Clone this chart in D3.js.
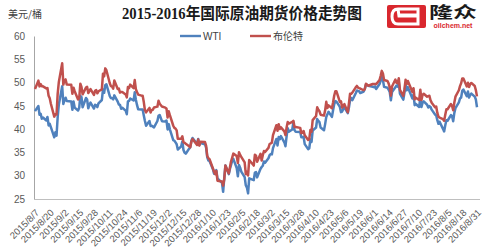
<!DOCTYPE html>
<html>
<head>
<meta charset="utf-8">
<script src="https://cdn.jsdelivr.net/npm/d3@7"></script>
<style>
body { margin: 0; background: #fff; }
svg { display: block; font-family: "Liberation Sans", Arial, "Noto Sans CJK SC", sans-serif; }
</style>
</head>
<body>
<svg></svg>
<script>
// trading days (both contracts quoted)
var dates = [
  "2015/8/7","2015/8/10","2015/8/11","2015/8/12","2015/8/13","2015/8/14","2015/8/17","2015/8/18","2015/8/19","2015/8/20","2015/8/21","2015/8/24","2015/8/25","2015/8/26","2015/8/27","2015/8/28","2015/8/31",
  "2015/9/1","2015/9/2","2015/9/3","2015/9/4","2015/9/8","2015/9/9","2015/9/10","2015/9/11","2015/9/14","2015/9/15","2015/9/16","2015/9/17","2015/9/18","2015/9/21","2015/9/22","2015/9/23","2015/9/24","2015/9/25","2015/9/28","2015/9/29","2015/9/30",
  "2015/10/1","2015/10/2","2015/10/5","2015/10/6","2015/10/7","2015/10/8","2015/10/9","2015/10/12","2015/10/13","2015/10/14","2015/10/15","2015/10/16","2015/10/19","2015/10/20","2015/10/21","2015/10/22","2015/10/23","2015/10/26","2015/10/27","2015/10/28","2015/10/29","2015/10/30",
  "2015/11/2","2015/11/3","2015/11/4","2015/11/5","2015/11/6","2015/11/9","2015/11/10","2015/11/11","2015/11/12","2015/11/13","2015/11/16","2015/11/17","2015/11/18","2015/11/19","2015/11/20","2015/11/23","2015/11/24","2015/11/25","2015/11/27","2015/11/30",
  "2015/12/1","2015/12/2","2015/12/3","2015/12/4","2015/12/7","2015/12/8","2015/12/9","2015/12/10","2015/12/11","2015/12/14","2015/12/15","2015/12/16","2015/12/17","2015/12/18","2015/12/21","2015/12/22","2015/12/23","2015/12/24","2015/12/28","2015/12/29","2015/12/30","2015/12/31",
  "2016/1/4","2016/1/5","2016/1/6","2016/1/7","2016/1/8","2016/1/11","2016/1/12","2016/1/13","2016/1/14","2016/1/15","2016/1/19","2016/1/20","2016/1/21","2016/1/22","2016/1/25","2016/1/26","2016/1/27","2016/1/28","2016/1/29",
  "2016/2/1","2016/2/2","2016/2/3","2016/2/4","2016/2/5","2016/2/8","2016/2/9","2016/2/10","2016/2/11","2016/2/12","2016/2/16","2016/2/17","2016/2/18","2016/2/19","2016/2/22","2016/2/23","2016/2/24","2016/2/25","2016/2/26","2016/2/29",
  "2016/3/1","2016/3/2","2016/3/3","2016/3/4","2016/3/7","2016/3/8","2016/3/9","2016/3/10","2016/3/11","2016/3/14","2016/3/15","2016/3/16","2016/3/17","2016/3/18","2016/3/21","2016/3/22","2016/3/23","2016/3/24","2016/3/28","2016/3/29","2016/3/30","2016/3/31",
  "2016/4/1","2016/4/4","2016/4/5","2016/4/6","2016/4/7","2016/4/8","2016/4/11","2016/4/12","2016/4/13","2016/4/14","2016/4/15","2016/4/18","2016/4/19","2016/4/20","2016/4/21","2016/4/22","2016/4/25","2016/4/26","2016/4/27","2016/4/28","2016/4/29",
  "2016/5/2","2016/5/3","2016/5/4","2016/5/5","2016/5/6","2016/5/9","2016/5/10","2016/5/11","2016/5/12","2016/5/13","2016/5/16","2016/5/17","2016/5/18","2016/5/19","2016/5/20","2016/5/23","2016/5/24","2016/5/25","2016/5/26","2016/5/27","2016/5/31",
  "2016/6/1","2016/6/2","2016/6/3","2016/6/6","2016/6/7","2016/6/8","2016/6/9","2016/6/10","2016/6/13","2016/6/14","2016/6/15","2016/6/16","2016/6/17","2016/6/20","2016/6/21","2016/6/22","2016/6/23","2016/6/24","2016/6/27","2016/6/28","2016/6/29","2016/6/30",
  "2016/7/1","2016/7/5","2016/7/6","2016/7/7","2016/7/8","2016/7/11","2016/7/12","2016/7/13","2016/7/14","2016/7/15","2016/7/18","2016/7/19","2016/7/20","2016/7/21","2016/7/22","2016/7/25","2016/7/26","2016/7/27","2016/7/28","2016/7/29",
  "2016/8/1","2016/8/2","2016/8/3","2016/8/4","2016/8/5","2016/8/8","2016/8/9","2016/8/10","2016/8/11","2016/8/12","2016/8/15","2016/8/16","2016/8/17","2016/8/18","2016/8/19","2016/8/22","2016/8/23","2016/8/24","2016/8/25","2016/8/26","2016/8/29","2016/8/30","2016/8/31"
];

var wti = [
  43.87,44.96,43.08,43.30,42.23,42.50,41.87,42.62,40.80,41.14,40.45,38.24,39.31,38.60,42.56,45.22,49.20,
  45.41,46.25,46.75,46.05,45.94,44.15,45.92,44.63,44.00,44.59,47.15,46.90,44.68,46.68,46.35,44.48,45.22,45.70,44.43,45.23,45.09,
  44.74,45.54,46.26,48.53,47.81,49.43,49.63,47.10,46.66,46.64,46.38,47.26,45.89,45.29,45.20,44.38,44.60,43.98,43.20,45.94,46.06,46.59,
  46.14,47.90,46.32,45.20,44.29,44.21,44.21,42.93,41.75,40.74,41.74,40.67,40.75,40.54,40.39,41.75,42.87,43.04,41.71,41.65,
  41.85,39.94,41.08,39.97,37.65,37.51,37.16,36.76,35.62,36.31,37.35,35.52,34.95,34.73,35.81,36.14,37.50,38.10,36.81,37.87,36.60,37.04,
  36.76,35.97,33.97,33.27,33.16,31.41,30.44,30.48,31.20,29.42,28.46,26.55,29.53,32.19,30.34,31.45,32.30,33.22,33.62,
  31.62,29.88,32.28,31.72,30.89,29.69,27.94,27.45,26.21,29.44,29.04,30.66,30.77,29.64,31.48,31.87,32.15,33.07,32.78,33.75,
  34.40,34.66,34.57,35.92,37.90,36.50,38.29,37.84,38.50,37.18,36.34,38.46,40.20,39.44,39.91,41.45,39.79,39.46,39.39,38.28,38.32,38.34,
  36.79,35.70,35.89,37.75,37.26,39.72,40.36,42.17,41.76,41.50,40.36,39.78,41.08,42.63,43.18,43.73,42.64,44.04,45.33,46.03,45.92,
  44.78,43.65,43.78,44.32,44.66,43.44,44.66,46.23,46.70,46.21,47.72,48.31,48.19,48.16,47.75,48.08,48.62,49.56,49.48,49.33,49.10,
  49.01,49.17,48.62,49.69,50.36,51.23,50.56,49.07,48.88,48.49,48.01,46.21,47.98,48.98,49.37,49.13,50.11,47.64,46.33,47.85,49.88,48.33,
  48.99,46.60,47.43,45.14,45.41,44.76,46.80,44.75,45.68,45.95,45.24,44.65,44.94,44.75,44.19,43.13,42.92,41.92,41.14,41.60,
  40.06,39.51,40.83,41.93,41.80,43.02,42.77,41.71,43.49,44.49,45.74,46.58,46.79,48.22,48.52,47.05,48.10,46.77,47.33,47.64,46.98,46.35,44.70
];

var brent = [
  48.61,50.41,49.18,49.66,49.22,49.19,48.74,48.81,47.16,46.62,45.46,42.69,43.21,43.14,47.56,50.05,54.15,
  49.56,50.50,50.68,49.61,49.52,47.58,48.89,48.14,46.37,46.63,49.75,49.08,47.47,48.92,49.08,47.75,48.17,48.60,47.34,48.23,48.37,
  47.69,48.13,48.54,51.92,51.33,53.05,52.65,49.86,49.24,49.15,48.71,50.46,48.61,48.71,47.85,47.99,47.99,47.46,46.81,49.05,48.80,49.56,
  48.79,50.54,48.58,47.98,47.42,47.19,47.19,45.81,44.06,43.61,44.56,43.57,44.14,44.18,44.66,44.83,46.12,45.46,44.86,44.61,
  44.44,42.49,43.84,43.00,40.73,40.26,40.11,39.73,37.93,37.92,38.45,37.19,37.06,36.88,36.35,36.11,37.36,37.89,36.62,37.79,36.46,37.28,
  37.22,36.42,34.23,33.75,33.55,31.55,30.86,30.31,31.03,28.94,28.76,27.88,29.25,32.18,30.50,31.80,33.10,33.89,34.74,
  34.24,32.72,35.04,34.46,34.06,32.88,30.32,30.84,30.06,33.36,32.18,34.50,34.28,33.01,34.69,33.27,34.41,35.29,35.10,35.97,
  36.81,36.93,37.07,38.72,40.84,39.65,41.07,40.05,40.39,39.53,38.74,40.33,41.54,41.20,41.54,41.79,40.47,40.44,40.27,39.14,39.26,39.60,
  38.67,37.69,37.87,39.84,39.43,41.94,42.83,44.69,44.18,43.84,43.10,42.91,44.03,45.86,44.53,45.11,44.48,45.74,47.18,48.14,48.13,
  45.83,45.97,44.62,45.01,45.37,43.63,45.52,47.61,47.59,47.83,48.97,49.28,48.93,48.81,48.72,48.35,48.61,49.74,49.59,49.32,49.69,
  49.72,49.72,49.64,50.55,51.44,52.51,51.95,50.54,50.35,49.83,48.97,47.19,49.17,50.65,49.96,49.88,50.91,48.41,47.16,48.58,50.61,49.68,
  50.35,47.96,48.80,46.40,46.76,46.25,48.47,46.26,47.37,47.61,46.96,47.08,47.17,46.20,45.69,44.72,44.87,43.47,42.70,42.46,
  42.14,41.80,43.10,44.29,44.27,45.39,44.98,44.05,45.72,46.97,48.35,49.23,49.85,50.89,50.88,49.16,49.96,49.05,49.67,49.92,49.26,48.37,47.04
];

var tickLabels = [
  "2015/8/7","2015/8/20","2015/9/2","2015/9/15","2015/9/28","2015/10/11","2015/10/24","2015/11/6","2015/11/19",
  "2015/12/2","2015/12/15","2015/12/28","2016/1/10","2016/1/23","2016/2/5","2016/2/18","2016/3/2","2016/3/15",
  "2016/3/28","2016/4/10","2016/4/23","2016/5/6","2016/5/19","2016/6/1","2016/6/14","2016/6/27","2016/7/10",
  "2016/7/23","2016/8/5","2016/8/18","2016/8/31"
];
var yTicks = [25, 30, 35, 40, 45, 50, 55, 60];

var seriesNames = ["WTI", "布伦特"];
var seriesColors = ["#4f81bd", "#c0504d"];

var svg = d3.select("svg").attr("width", 482).attr("height", 250);
var parse = d3.timeParse("%Y/%m/%d");

var plotLeft = 35, plotRight = 477, plotTop = 36, plotBottom = 199;

var x = d3.scaleTime()
    .domain([parse(tickLabels[0]), parse(tickLabels[tickLabels.length - 1])])
    .range([plotLeft, plotRight]);
var y = d3.scaleLinear().domain([25, 60]).range([plotBottom, plotTop]);

// y axis
var yAxis = svg.append("g")
    .attr("transform", "translate(" + (plotLeft - 1) + ",0)")
    .call(d3.axisLeft(y).tickValues(yTicks).tickSize(0).tickPadding(9));
yAxis.select(".domain").attr("stroke", "#a6a6a6");
yAxis.selectAll("text").attr("font-size", 10).attr("fill", "#595959")
    .attr("font-family", "Liberation Sans, Arial, sans-serif");

// x axis
var xAxis = svg.append("g")
    .attr("transform", "translate(0," + plotBottom + ")")
    .call(d3.axisBottom(x).tickValues(tickLabels.map(parse)).tickSize(0)
        .tickFormat(d3.timeFormat("%Y/%-m/%-d")));
xAxis.select(".domain").attr("stroke", "#bfbfbf").attr("d", "M" + (plotLeft - 1) + ",0.5H" + (plotRight + 3));
xAxis.selectAll("text")
    .attr("font-size", 9.5)
    .attr("fill", "#595959")
    .attr("font-family", "Liberation Sans, Arial, sans-serif")
    .attr("text-anchor", "end")
    .attr("dy", "0.35em")
    .attr("y", 0)
    .attr("transform", "translate(2,12) rotate(-45)");

// lines
var rows = dates.map(function (d, i) { return { date: parse(d), v: [wti[i], brent[i]] }; });

[0, 1].forEach(function (k) {
    var line = d3.line()
        .x(function (d) { return x(d.date); })
        .y(function (d) { return y(d.v[k]); });
    svg.append("path")
        .datum(rows)
        .attr("fill", "none")
        .attr("stroke", seriesColors[k])
        .attr("stroke-width", 2.5)
        .attr("stroke-linejoin", "round")
        .attr("d", line);
});

// legend
var legendX = [180, 250];
seriesNames.forEach(function (name, k) {
    svg.append("line")
        .attr("x1", legendX[k]).attr("x2", legendX[k] + 21)
        .attr("y1", 36).attr("y2", 36)
        .attr("stroke", seriesColors[k]).attr("stroke-width", 2.4);
    svg.append("text")
        .attr("x", legendX[k] + 23).attr("y", 39.5)
        .attr("font-size", 10).attr("fill", "#404040")
        .attr("font-family", "Liberation Sans, Noto Sans CJK SC, sans-serif")
        .text(name);
});

// unit + title
svg.append("text")
    .attr("x", 8).attr("y", 18)
    .attr("font-size", 10).attr("fill", "#404040")
    .attr("font-family", "Noto Sans CJK SC, sans-serif")
    .text("美元/桶");

svg.append("text")
    .attr("x", 242).attr("y", 19)
    .attr("text-anchor", "middle")
    .attr("font-size", 16).attr("font-weight", "bold").attr("fill", "#1a1a1a")
    .attr("font-family", "Liberation Serif, Noto Sans CJK SC, serif")
    .attr("textLength", 240).attr("lengthAdjust", "spacingAndGlyphs")
    .text("2015-2016年国际原油期货价格走势图");

// logo
var logo = svg.append("g");
logo.append("rect")
    .attr("x", 387).attr("y", 5).attr("width", 39).attr("height", 23)
    .attr("rx", 2).attr("fill", "#d9272e");
logo.append("path")
    .attr("d", "M398,9 H418 V15 H400 M399,16 H418 V24 H398 Q392,24 392,16.5 Q392,9 398,9 Z")
    .attr("fill", "none").attr("stroke", "#fff").attr("stroke-width", 3);
logo.append("text")
    .attr("x", 429).attr("y", 18)
    .attr("font-size", 16).attr("font-weight", "bold").attr("fill", "#1a1a1a")
    .attr("font-family", "Noto Sans CJK SC, sans-serif")
    .attr("textLength", 48).attr("lengthAdjust", "spacingAndGlyphs")
    .text("隆众");
logo.append("text")
    .attr("x", 453).attr("y", 28)
    .attr("text-anchor", "middle")
    .attr("font-size", 7).attr("font-weight", "bold").attr("fill", "#d9272e")
    .text("oilchem.net");
</script>
</body>
</html>
